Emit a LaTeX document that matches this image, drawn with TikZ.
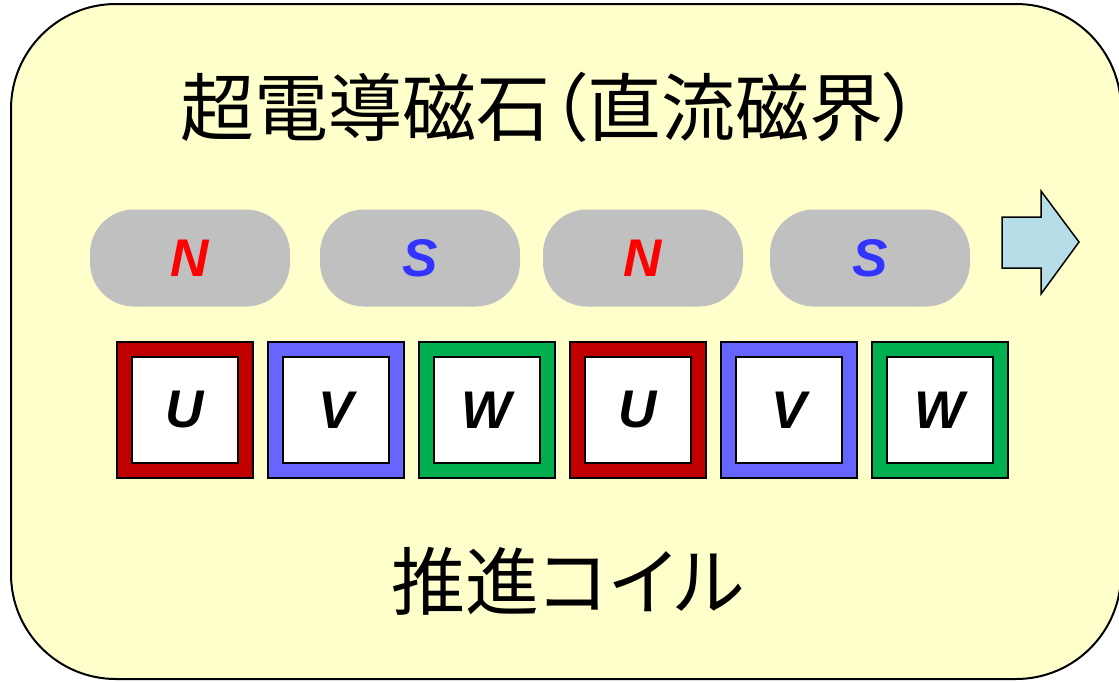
\documentclass[tikz,border=0pt]{standalone}
\usepackage{fontspec}
\newfontfamily\jp[RawFeature=+palt]{Noto Sans CJK JP}
\newfontfamily\lat{Liberation Sans}
\definecolor{bgyellow}{HTML}{FFFFCC}
\definecolor{pillgray}{HTML}{C0C0C0}
\definecolor{nred}{HTML}{FF0000}
\definecolor{sblue}{HTML}{3333FF}
\definecolor{ured}{HTML}{C00000}
\definecolor{vblue}{HTML}{6666FF}
\definecolor{wgreen}{HTML}{00B050}
\definecolor{arrowblue}{HTML}{B7DEE8}
\tikzset{
  frame/.style={draw=black, line width=2pt, fill=bgyellow, rounded corners=105pt},
  pill/.style={fill=pillgray, draw=none, rounded corners=44pt, minimum width=200pt, minimum height=97pt, inner sep=0pt},
  pole/.style={font=\lat\bfseries\itshape\fontsize{53}{60}\selectfont},
  coil/.style={draw=black, line width=1.3pt, fill=#1, minimum width=136pt, minimum height=136pt, inner sep=0pt},
  coilin/.style={draw=black, line width=1.3pt, fill=white, minimum width=106pt, minimum height=106pt, inner sep=0pt, font=\lat\bfseries\itshape\fontsize{53}{60}\selectfont},
  title/.style={font=\jp\fontsize{74}{80}\selectfont, inner sep=0pt},
  movearrow/.style={draw=black, line width=1.5pt, fill=arrowblue, line join=miter}
}
\begin{document}
\begin{tikzpicture}[x=1pt, y=-1pt]
\useasboundingbox (0,0) rectangle (1119,681);
\draw[frame] (11,4) rectangle (1121,679);
\node[title] (ttl) at (550,107) {超電導磁石（直流磁界）};
\node[pill] (p1) at (190,258) {};
\node[pill] (p2) at (420,258) {};
\node[pill] (p3) at (643,258) {};
\node[pill] (p4) at (870,258) {};
\node[pole, text=nred] (n1) at (p1) {N};
\node[pole, text=sblue] (s1) at (p2) {S};
\node[pole, text=nred] (n2) at (p3) {N};
\node[pole, text=sblue] (s2) at (p4) {S};
\draw[movearrow] (1002,217) -- (1041,217) -- (1041,191) -- (1079,242) -- (1041,294) -- (1041,268) -- (1002,268) -- cycle;
\node[coil=ured] (c1) at (185,410) {};
\node[coil=vblue] (c2) at (336,410) {};
\node[coil=wgreen] (c3) at (487,410) {};
\node[coil=ured] (c4) at (638,410) {};
\node[coil=vblue] (c5) at (789,410) {};
\node[coil=wgreen] (c6) at (940,410) {};
\node[coilin] (i1) at (c1) {U};
\node[coilin] (i2) at (c2) {V};
\node[coilin] (i3) at (c3) {W};
\node[coilin] (i4) at (c4) {U};
\node[coilin] (i5) at (c5) {V};
\node[coilin] (i6) at (c6) {W};
\node[title] (bot) at (568,581) {推進コイル};
\end{tikzpicture}
\end{document}
